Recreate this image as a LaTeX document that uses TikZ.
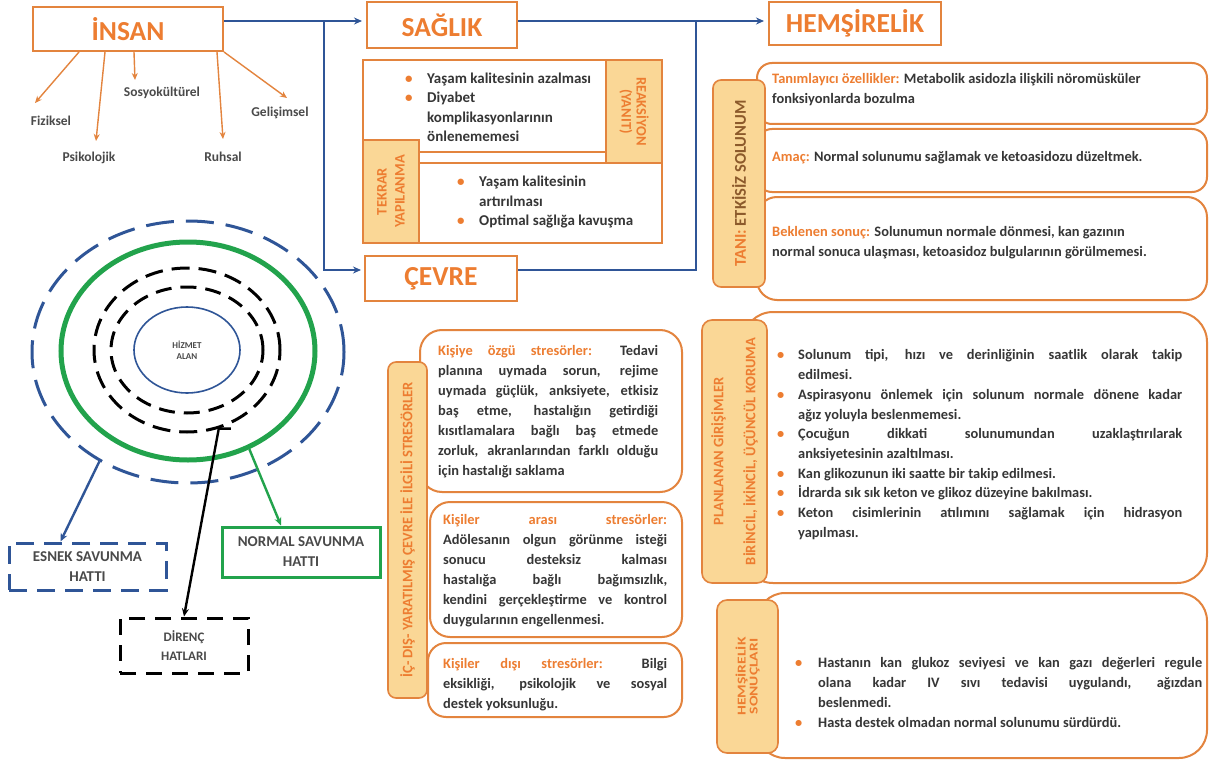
\documentclass[tikz,border=0pt]{standalone}
\usepackage{fontspec}
\setmainfont{Carlito}
\newfontfamily\widelbl{Carlito}[FakeStretch=1.3]
\usetikzlibrary{arrows.meta,shapes.geometric}

\definecolor{edgeor}{HTML}{E3843E}
\definecolor{textor}{HTML}{ED7D31}
\definecolor{tabfill}{HTML}{FAD796}
\definecolor{navy}{HTML}{2F5597}
\definecolor{leaf}{HTML}{22A34C}
\definecolor{ink}{HTML}{363636}
\definecolor{ashgray}{HTML}{4A4A4A}
\definecolor{rust}{HTML}{8C5A2B}

\hyphenpenalty=10000 \exhyphenpenalty=10000
\tolerance=10000 \hbadness=10000 \hfuzz=3pt

% fixed-height strut: first baseline sits 14pt below a node's top
\newcommand\tstrut{\rule[-4pt]{0pt}{14pt}}
% bullet paragraph with hanging indent
\newlength\bulind
\newcommand\bul[1]{\par\noindent\hangindent=\bulind\hangafter=1%
  \makebox[\bulind][l]{\tstrut\textcolor{textor}{•}}#1}

\begin{document}
\begin{tikzpicture}[x=1pt,y=-1pt,
  titlebox/.style={draw=edgeor, line width=2pt, fill=white, text=textor,
    font=\fontsize{27.5}{30}\selectfont\bfseries, inner sep=0pt},
  tabbox/.style={draw=edgeor, line width=1.6pt, fill=tabfill, inner sep=0pt},
  card/.style={draw=edgeor, line width=2pt, fill=white, inner sep=0pt},
  tabtext/.style={text=textor, align=center, inner sep=0pt},
  bodytext/.style={text=ink, font=\fontsize{14.4}{20}\selectfont\bfseries,
    anchor=north west, inner sep=0pt, align=justify},
  sublabel/.style={text=ashgray, font=\fontsize{13.5}{14}\selectfont\bfseries, inner sep=0pt},
  linebox/.style={line width=3pt, align=center, text=ashgray, inner sep=0pt,
    font=\fontsize{15}{20}\selectfont\bfseries},
  orarrow/.style={draw=edgeor, line width=1.4pt, -{Stealth[length=7pt,width=6pt]}},
  navyarrow/.style={draw=navy, line width=2.4pt, -{Stealth[length=8pt,width=7pt]}},
  navyline/.style={draw=navy, line width=2.4pt},
]
\fill[white] (0,0) rectangle (1210,765);
\useasboundingbox (0,0) rectangle (1210,765);

% ---------- main concept boxes ----------
\node[titlebox, minimum width=190pt, minimum height=44pt] (insan) at (128,29) {İNSAN};
\node[titlebox, minimum width=150pt, minimum height=46pt] (saglik) at (442,25) {SAĞLIK};
\node[titlebox, minimum width=172pt, minimum height=43pt] (hems) at (855,23.5) {HEMŞİRELİK};
\node[titlebox, minimum width=152pt, minimum height=45pt] (cevre) at (441,278.5) {ÇEVRE};

\coordinate (toprow) at (0,21);
\coordinate (cevrerow) at (0,270);
\coordinate (splitA) at (324,21);
\coordinate (splitB) at (696,21);

\draw[navyarrow, shorten >=4pt] (insan.east |- toprow) -- (saglik.west |- toprow);
\draw[navyarrow, shorten >=4pt] (saglik.east |- toprow) -- (hems.west |- toprow);
\draw[navyarrow, shorten >=3pt] (splitA) |- (cevre.west |- cevrerow);
\draw[navyline] (splitB) |- (cevre.east |- cevrerow);

% ---------- person dimensions ----------
\node[sublabel] (fiz) at (51,121) {Fiziksel};
\node[sublabel] (psi) at (89,158) {Psikolojik};
\node[sublabel] (sos) at (162,93) {Sosyokültürel};
\node[sublabel] (ruh) at (223,157) {Ruhsal};
\node[sublabel] (gel) at (280,113) {Gelişimsel};
\coordinate (fizTip) at (35,103);
\coordinate (psiTip) at (96,141);
\coordinate (sosTip) at (135,80);
\coordinate (ruhTip) at (223,139);
\coordinate (gelTip) at (287,98);
\draw[orarrow] ([xshift=47pt]insan.south west) -- (fizTip);
\draw[orarrow] ([xshift=73pt]insan.south west) -- (psiTip);
\draw[orarrow] ([xshift=102pt]insan.south west) -- (sosTip);
\draw[orarrow] ([xshift=185pt]insan.south west) -- (ruhTip);
\draw[orarrow] (insan.south east) -- (gelTip);

% ---------- health block ----------
\node[card, line width=1.8pt, minimum width=299pt, minimum height=183pt] (hblock) at (512.5,151.5) {};
\node[card, line width=1.8pt, minimum width=243pt, minimum height=92pt] (hupper) at (484.5,106) {};
\node[card, line width=1.8pt, minimum width=243pt, minimum height=80pt] (hlower) at (540.5,203) {};
\node[tabbox, minimum width=56pt, minimum height=103pt] (reak) at (634,111.5) {};
\node[tabbox, minimum width=56pt, minimum height=103pt] (tekrar) at (391,191.5) {};
\node[tabtext, rotate=-90, font=\fontsize{14.5}{15}\selectfont\bfseries] (reaktxt) at (reak) {REAKSİYON\\(YANIT)};
\node[tabtext, rotate=90, font=\fontsize{14.5}{18}\selectfont\bfseries] (tekrartxt) at (tekrar) {TEKRAR\\YAPILANMA};
\node[bodytext, text width=200pt, font=\fontsize{15}{19.3}\selectfont\bfseries] (hupptxt) at (405,64)
  {\setlength\bulind{22pt}\bul{Yaşam kalitesinin azalması}\bul{Diyabet\newline komplikasyonlarının\newline önlenememesi}\par};
\node[bodytext, text width=200pt, font=\fontsize{15}{19.5}\selectfont\bfseries] (hlowtxt) at (457,167)
  {\setlength\bulind{22pt}\bul{Yaşam kalitesinin\newline artırılması}\bul{Optimal sağlığa kavuşma}\par};

% ---------- defence lines ----------
\node[ellipse, draw=navy, line width=3pt, dash pattern=on 28pt off 12pt,
  minimum width=312pt, minimum height=262pt, inner sep=0pt] (flexring) at (188,352) {};
\node[ellipse, draw=leaf, line width=5pt, minimum width=254pt, minimum height=218pt,
  inner sep=0pt] (normring) at (188,351) {};
\node[ellipse, draw=black, line width=3pt, dash pattern=on 18pt off 9pt,
  minimum width=186pt, minimum height=164pt, inner sep=0pt] (resring) at (187,350) {};
\node[ellipse, draw=black, line width=3pt, dash pattern=on 16pt off 9pt,
  minimum width=152pt, minimum height=126pt, inner sep=0pt] (resring2) at (187,350) {};
\node[ellipse, draw=navy, line width=1.6pt, minimum width=106pt, minimum height=86pt,
  inner sep=0pt, align=center, text=ashgray, font=\fontsize{9}{10.5}\selectfont\bfseries] (core) at (187,350) {HİZMET\\ALAN};

\node[linebox, draw=navy, dash pattern=on 18pt off 10pt, minimum width=157pt, minimum height=47pt] (esnek) at (87.5,566.5) {ESNEK SAVUNMA\\HATTI};
\node[linebox, draw=leaf, minimum width=158pt, minimum height=50pt] (normal) at (301,552) {NORMAL SAVUNMA\\HATTI};
\node[linebox, draw=black, dash pattern=on 16pt off 10pt, minimum width=128pt, minimum height=55pt,
  font=\fontsize{13}{19}\selectfont\bfseries] (direnc) at (184,645.5) {DİRENÇ\\HATLARI};

\draw[navy, line width=2.4pt, -{Stealth[length=8pt,width=7pt]}] (flexring.231) -- ([xshift=-27pt]esnek.north);
\draw[leaf, line width=2.4pt, -{Stealth[length=8pt,width=7pt]}] (normring.302) -- ([xshift=-20pt]normal.north);
\draw[black, line width=2.4pt, -{Stealth[length=8pt,width=7pt]}] ([xshift=12pt]resring.292) -- (resring.292) -- (direnc.north);

% ---------- stressors ----------
\node[card, rounded corners=22pt, minimum width=262pt, minimum height=162pt] (str1) at (551,411) {};
\node[card, rounded corners=20pt, minimum width=252pt, minimum height=135pt] (str2) at (556,569.5) {};
\node[card, rounded corners=18pt, minimum width=254pt, minimum height=74pt] (str3) at (555,680) {};
\node[tabbox, rounded corners=8pt, minimum width=39pt, minimum height=336pt] (strtab) at (407.5,530) {};
\node[tabtext, rotate=90, font=\fontsize{14.5}{16}\selectfont\bfseries] (strtabtxt) at (strtab) {İÇ- DIŞ- YARATILMIŞ ÇEVRE İLE İLGİLİ STRESÖRLER};

\node[bodytext, text width=220pt] (str1txt) at (438,345)
  {\noindent\tstrut{\color{textor}Kişiye özgü stresörler:} Tedavi\linebreak planına uymada sorun, rejime\linebreak uymada güçlük, anksiyete, etkisiz\linebreak baş etme, hastalığın getirdiği\linebreak kısıtlamalara bağlı baş etmede\linebreak zorluk, akranlarından farklı olduğu\linebreak için hastalığı saklama\par};
\node[bodytext, text width=224pt] (str2txt) at (443,514)
  {\noindent\tstrut{\color{textor}Kişiler arası stresörler:}\linebreak Adölesanın olgun görünme isteği\linebreak sonucu desteksiz kalması\linebreak hastalığa bağlı bağımsızlık,\linebreak kendini gerçekleştirme ve kontrol\linebreak duygularının engellenmesi.\par};
\node[bodytext, text width=224pt] (str3txt) at (443,658)
  {\noindent\tstrut{\color{textor}Kişiler dışı stresörler:} Bilgi\linebreak eksikliği, psikolojik ve sosyal\linebreak destek yoksunluğu.\par};

% ---------- nursing diagnosis ----------
\node[card, rounded corners=15pt, minimum width=450pt, minimum height=61pt] (defin) at (982,93.5) {};
\node[card, rounded corners=15pt, minimum width=450pt, minimum height=63pt] (goal) at (982,160.5) {};
\node[card, rounded corners=20pt, minimum width=450pt, minimum height=103pt] (expect) at (982,248.5) {};
\node[tabbox, rounded corners=8pt, minimum width=52pt, minimum height=207pt] (tanitab) at (739,183.5) {};
\node[tabtext, rotate=90, font=\fontsize{16.5}{18}\selectfont\bfseries] (tanitxt) at (tanitab) {TANI: {\color{rust}ETKİSİZ SOLUNUM}};

\node[bodytext, align=left] (defintxt) at (772,73)
  {\tstrut{\color{textor}Tanımlayıcı özellikler:} Metabolik asidozla ilişkili nöromüsküler\\fonksiyonlarda bozulma};
\node[bodytext, align=left] (goaltxt) at (772,151)
  {\tstrut{\color{textor}Amaç:} Normal solunumu sağlamak ve ketoasidozu düzeltmek.};
\node[bodytext, align=left] (expecttxt) at (772,226)
  {\tstrut{\color{textor}Beklenen sonuç:} Solunumun normale dönmesi, kan gazının\\normal sonuca ulaşması, ketoasidoz bulgularının görülmemesi.};

% ---------- planned interventions ----------
\node[card, rounded corners=30pt, minimum width=464pt, minimum height=271pt] (plan) at (975,447.5) {};
\node[tabbox, rounded corners=10pt, minimum width=65pt, minimum height=263pt] (plantab) at (734.5,451.5) {};
\node[tabtext, rotate=90, font=\fontsize{14.5}{32}\selectfont\bfseries] (plantabtxt) at (plantab) {PLANLANAN GİRİŞİMLER\\BİRİNCİL, İKİNCİL, ÜÇÜNCÜL KORUMA};
\node[bodytext, text width=405pt, font=\fontsize{14.4}{19.7}\selectfont\bfseries] (plantxt) at (777,340)
  {\setlength\bulind{21pt}%
   \bul{Solunum tipi, hızı ve derinliğinin saatlik olarak takip\linebreak edilmesi.}%
   \bul{Aspirasyonu önlemek için solunum normale dönene kadar\linebreak ağız yoluyla beslenmemesi.}%
   \bul{Çocuğun dikkati solunumundan uzaklaştırılarak\linebreak anksiyetesinin azaltılması.}%
   \bul{Kan glikozunun iki saatte bir takip edilmesi.}%
   \bul{İdrarda sık sık keton ve glikoz düzeyine bakılması.}%
   \bul{Keton cisimlerinin atılımını sağlamak için hidrasyon\linebreak yapılması.}\par};

% ---------- nursing outcomes ----------
\node[card, rounded corners=28pt, minimum width=450pt, minimum height=165pt] (outc) at (982,675.5) {};
\node[tabbox, rounded corners=10pt, minimum width=61pt, minimum height=153pt] (outctab) at (747.5,676.5) {};
\node[tabtext, rotate=90, font=\widelbl\fontsize{12}{12}\selectfont\bfseries] (outctabtxt) at (outctab) {HEMŞİRELİK\\SONUÇLARI};
\node[bodytext, text width=407pt] (outctxt) at (795,647)
  {\setlength\bulind{23pt}%
   \bul{Hastanın kan glukoz seviyesi ve kan gazı değerleri regule\linebreak olana kadar IV sıvı tedavisi uygulandı, ağızdan\linebreak beslenmedi.}%
   \bul{Hasta destek olmadan normal solunumu sürdürdü.}\par};
\end{tikzpicture}
\end{document}
